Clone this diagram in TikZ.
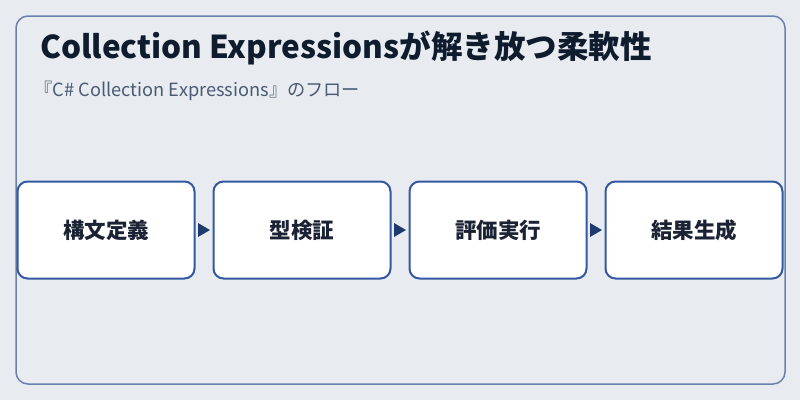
\documentclass[tikz,border=0pt]{standalone}
\usepackage{fontspec}
\setmainfont{Noto Sans CJK JP}
\definecolor{bgc}{HTML}{E8ECF1}
\definecolor{framec}{HTML}{6B80AC}
\definecolor{boxc}{HTML}{3458A0}
\definecolor{arrc}{HTML}{1E3A6E}
\definecolor{titlec}{HTML}{0F1C2E}
\definecolor{subc}{HTML}{4A5A72}
\definecolor{boxtext}{HTML}{1A2233}
\begin{document}
\begin{tikzpicture}[x=1pt,y=-1pt,
  stepbox/.style={draw=boxc,line width=2pt,fill=white,rounded corners=10pt,
    minimum width=177pt,minimum height=97pt,inner sep=0pt,
    font=\fontsize{21.5}{24}\selectfont\bfseries,text=boxtext},
  flowarrow/.style={fill=arrc,draw=none}]
\useasboundingbox (0,0) rectangle (800,400);
\fill[bgc] (0,0) rectangle (800,400);
\draw[framec,line width=1.5pt,rounded corners=12pt] (16,16) rectangle (785,384);
\node[anchor=base west,inner sep=0pt,text=titlec,font=\fontsize{31.5}{34}\selectfont\bfseries] (title) at (40,58) {Collection Expressionsが解き放つ柔軟性};
\node[anchor=base west,inner sep=0pt,text=subc,font=\fontsize{18.2}{20}\selectfont] (sub) at (34.5,96) {『C\# Collection Expressions』のフロー};
\node[stepbox] (b1) at (106,230) {構文定義};
\node[stepbox] (b2) at (302,230) {型検証};
\node[stepbox] (b3) at (498,230) {評価実行};
\node[stepbox] (b4) at (694,230) {結果生成};
\foreach \a/\b in {b1/b2,b2/b3,b3/b4}{
  \path (\a.east) -- (\b.west) coordinate[pos=0.5] (m\a);
  \fill[flowarrow] ([xshift=-6pt,yshift=-7pt]m\a) -- ([xshift=6pt]m\a) -- ([xshift=-6pt,yshift=7pt]m\a) -- cycle;
}
\end{tikzpicture}
\end{document}
